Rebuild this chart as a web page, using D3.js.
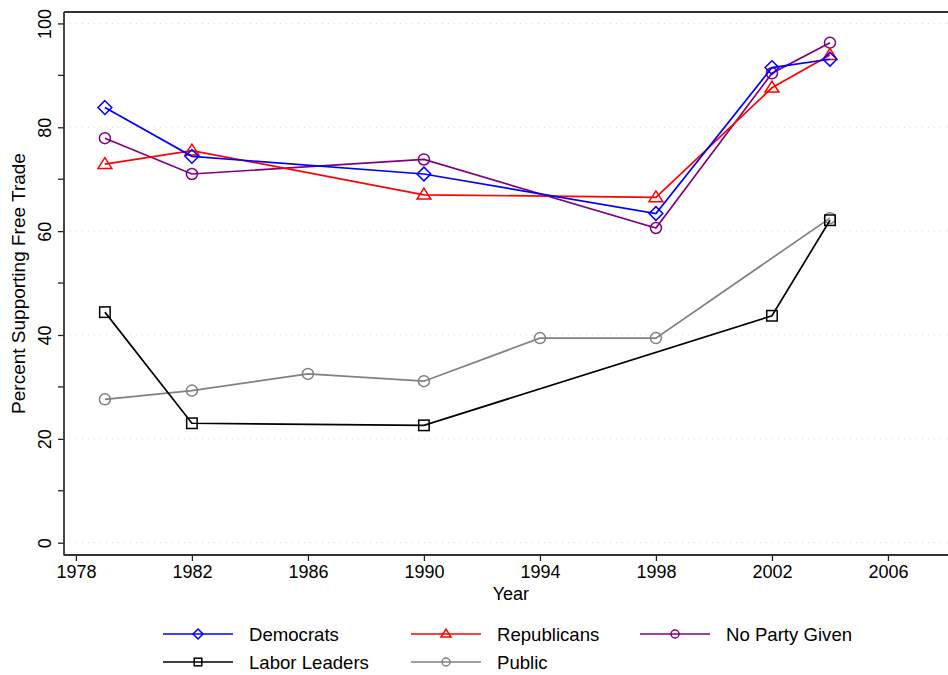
<!DOCTYPE html>
<html><head><meta charset="utf-8">
<script src="https://cdn.jsdelivr.net/npm/d3@7"></script>
<style>body{margin:0;background:#fff}svg{display:block;font-family:"Liberation Sans",Arial,sans-serif}</style>
</head><body><svg id="c" width="948" height="675"></svg>
<script>
const demYears = [1979, 1982, 1990, 1998, 2002, 2004];
const democrats = [83.8, 74.4, 71.0, 63.4, 91.5, 93.1];
const repYears = [1979, 1982, 1990, 1998, 2002, 2004];
const republicans = [72.9, 75.5, 67.0, 66.5, 87.6, 93.9];
const npYears = [1979, 1982, 1990, 1998, 2002, 2004];
const noParty = [77.9, 71.0, 73.8, 60.6, 90.4, 96.3];
const laborYears = [1979, 1982, 1990, 2002, 2004];
const laborLeaders = [44.4, 23.0, 22.6, 43.7, 62.1];
const publicYears = [1979, 1982, 1986, 1990, 1994, 1998, 2004];
const publicOpinion = [27.6, 29.3, 32.5, 31.1, 39.4, 39.4, 62.5];
const xTicks = [1978, 1982, 1986, 1990, 1994, 1998, 2002, 2006];
const yTicks = [0, 20, 40, 60, 80, 100];
const yMinor = [10, 30, 50, 70, 90];

const series = [
  {name: "Democrats", years: demYears, vals: democrats, color: "#0000ff", shape: "diamond"},
  {name: "Republicans", years: repYears, vals: republicans, color: "#ff0000", shape: "triangle"},
  {name: "No Party Given", years: npYears, vals: noParty, color: "#800080", shape: "circle"},
  {name: "Labor Leaders", years: laborYears, vals: laborLeaders, color: "#000000", shape: "square"},
  {name: "Public", years: publicYears, vals: publicOpinion, color: "#808080", shape: "circle"}
];

const svg = d3.select("#c");
const L = 64, R = 948, T = 12, B = 555;
const x = d3.scaleLinear().domain([1977.59, 2008.07]).range([L, R]);
const y = d3.scaleLinear().domain([-2.37, 102.2]).range([B, T]);

// grid
svg.append("g").selectAll("line").data(yTicks).join("line")
  .attr("x1", L).attr("x2", R).attr("y1", d => y(d)).attr("y2", d => y(d))
  .attr("stroke", "#d8d8d8").attr("stroke-width", 1).attr("stroke-dasharray", "1,5");

// axes
const fs = 18;
const xAxis = svg.append("g").attr("transform", `translate(0,${B})`)
  .call(d3.axisBottom(x).tickValues(xTicks).tickFormat(d3.format("d")).tickSize(6).tickPadding(4));
xAxis.select(".domain").remove();
xAxis.selectAll("line").attr("stroke", "#222").attr("stroke-width", 1.3);
xAxis.selectAll("text").attr("font-size", fs).attr("fill", "#000").attr("font-family", "Liberation Sans, Arial, sans-serif");

const yAxis = svg.append("g").attr("transform", `translate(${L},0)`)
  .call(d3.axisLeft(y).tickValues(yTicks).tickFormat(d3.format("d")).tickSize(6).tickPadding(0));
yAxis.select(".domain").remove();
yAxis.selectAll("line").attr("stroke", "#222").attr("stroke-width", 1.3);
yAxis.selectAll("text").attr("font-size", fs).attr("fill", "#000").attr("font-family", "Liberation Sans, Arial, sans-serif")
  .attr("x", null).attr("dy", null).attr("text-anchor", "middle")
  .attr("transform", "translate(-19,0) rotate(-90)").attr("dominant-baseline", "alphabetic").attr("y", 6);
svg.append("g").selectAll("line").data(yMinor).join("line")
  .attr("x1", L - 6).attr("x2", L).attr("y1", d => y(d)).attr("y2", d => y(d))
  .attr("stroke", "#222").attr("stroke-width", 1.3);

// frame lines
svg.append("line").attr("x1", L).attr("x2", L).attr("y1", T).attr("y2", B + 0.5).attr("stroke", "#333").attr("stroke-width", 1.8);
svg.append("line").attr("x1", L).attr("x2", R).attr("y1", B).attr("y2", B).attr("stroke", "#333").attr("stroke-width", 1.8);
svg.append("line").attr("x1", L).attr("x2", R).attr("y1", T).attr("y2", T).attr("stroke", "#333").attr("stroke-width", 1.8);

// titles
svg.append("text").attr("x", x(1993)).attr("y", 600).attr("text-anchor", "middle")
  .attr("font-size", fs).text("Year");
svg.append("text").attr("transform", `translate(25,${(T + B) / 2}) rotate(-90)`).attr("text-anchor", "middle")
  .attr("font-size", 19).text("Percent Supporting Free Trade");

function marker(g, shape, cx, cy, s, color, sw) {
  if (shape === "circle") {
    g.append("circle").attr("cx", cx).attr("cy", cy).attr("r", s).attr("fill", "none").attr("stroke", color).attr("stroke-width", sw);
  } else if (shape === "diamond") {
    const r = s * 1.25;
    g.append("path").attr("d", `M${cx},${cy - r}L${cx + r},${cy}L${cx},${cy + r}L${cx - r},${cy}Z`)
      .attr("fill", "none").attr("stroke", color).attr("stroke-width", sw);
  } else if (shape === "triangle") {
    const r = s * 1.2;
    g.append("path").attr("d", `M${cx},${cy - r}L${cx + r * 1.05},${cy + r * 0.65}L${cx - r * 1.05},${cy + r * 0.65}Z`)
      .attr("fill", "none").attr("stroke", color).attr("stroke-width", sw);
  } else if (shape === "square") {
    const r = s * 0.95;
    g.append("rect").attr("x", cx - r).attr("y", cy - r).attr("width", 2 * r).attr("height", 2 * r)
      .attr("fill", "none").attr("stroke", color).attr("stroke-width", sw);
  }
}

// draw order: public, labor, then others
const order = [4, 3, 2, 1, 0];
order.forEach(i => {
  const s = series[i];
  const pts = s.years.map((yr, j) => [yr, s.vals[j]]);
  const g = svg.append("g");
  g.append("path").datum(pts)
    .attr("d", d3.line().x(d => x(d[0])).y(d => y(d[1])))
    .attr("fill", "none").attr("stroke", s.color).attr("stroke-width", 1.7);
  pts.forEach(p => marker(g, s.shape, x(p[0]), y(p[1]), 5.5, s.color, 1.5));
});

// legend
const legPos = [[163, 634], [411, 634], [640, 634], [163, 662], [411, 662]];
series.forEach((s, i) => {
  const [lx, ly] = legPos[i];
  const g = svg.append("g");
  g.append("line").attr("x1", lx).attr("x2", lx + 70).attr("y1", ly).attr("y2", ly).attr("stroke", s.color).attr("stroke-width", 1.7);
  marker(g, s.shape, lx + 35, ly, 4, s.color, 1.5);
  g.append("text").attr("x", lx + 86).attr("y", ly + 6.5).attr("font-size", 18.6).text(s.name);
});
</script></body></html>
